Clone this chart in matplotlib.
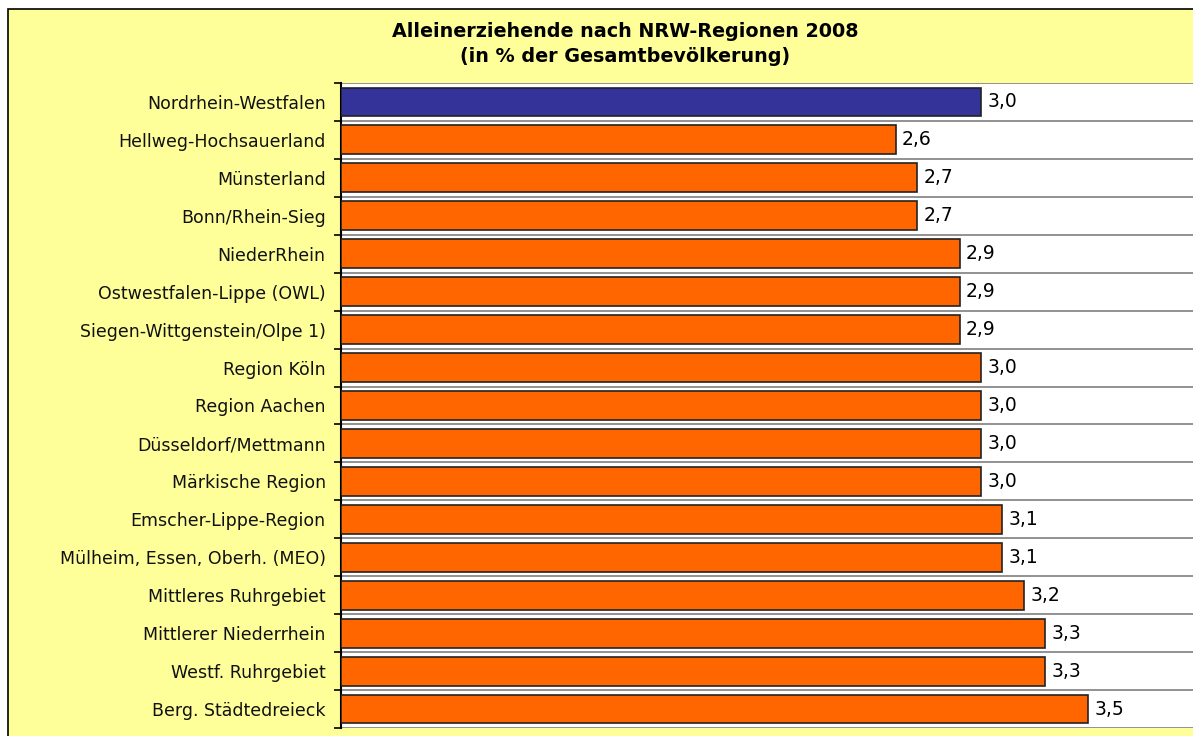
import matplotlib
matplotlib.use("Agg")
import matplotlib.pyplot as plt
from matplotlib.patches import Rectangle

categories = [
    "Nordrhein-Westfalen", "Hellweg-Hochsauerland", "Münsterland", "Bonn/Rhein-Sieg",
    "NiederRhein", "Ostwestfalen-Lippe (OWL)", "Siegen-Wittgenstein/Olpe 1)",
    "Region Köln", "Region Aachen", "Düsseldorf/Mettmann", "Märkische Region",
    "Emscher-Lippe-Region", "Mülheim, Essen, Oberh. (MEO)", "Mittleres Ruhrgebiet",
    "Mittlerer Niederrhein", "Westf. Ruhrgebiet", "Berg. Städtedreieck",
]
values = [3.0, 2.6, 2.7, 2.7, 2.9, 2.9, 2.9, 3.0, 3.0, 3.0, 3.0, 3.1, 3.1, 3.2, 3.3, 3.3, 3.5]
value_labels = ["3,0", "2,6", "2,7", "2,7", "2,9", "2,9", "2,9", "3,0", "3,0", "3,0", "3,0",
                "3,1", "3,1", "3,2", "3,3", "3,3", "3,5"]
title = "Alleinerziehende nach NRW-Regionen 2008\n(in % der Gesamtbevölkerung)"

W, H = 1193, 736
fig = plt.figure(figsize=(W / 100, H / 100), dpi=100)
fig.patch.set_facecolor("white")

# background axes with the yellow frame
bg = fig.add_axes([0, 0, 1, 1], zorder=0)
bg.set_xlim(0, W)
bg.set_ylim(H, 0)
bg.axis("off")
bg.add_patch(Rectangle((8, 9), W + 50, H + 50, facecolor="#FFFF99", edgecolor="black",
                       linewidth=1.2))

ax_left, ax_right = 341 / W, 1.0
ax_top, ax_bottom = 1 - 83 / H, 1 - 728 / H
ax = fig.add_axes([ax_left, ax_bottom, ax_right - ax_left, ax_top - ax_bottom], zorder=2)
ax.set_facecolor("white")

n = len(categories)
ypos = list(range(n))
colors = ["#333399"] + ["#FF6600"] * (n - 1)
ax.barh(ypos, values, height=0.76, color=colors, edgecolor="#222222", linewidth=1.2, zorder=3)

ax.set_ylim(n - 0.5, -0.5)
px_per_unit = 640 / 3.0
ax.set_xlim(0, (W - 341) / px_per_unit)

for i in range(n + 1):
    ax.axhline(i - 0.5, color="#7f7f7f", linewidth=1.2, zorder=1)

for y, v, lab in zip(ypos, values, value_labels):
    ax.text(v + 0.03, y, lab, va="center", ha="left", fontsize=13.5, color="black",
            family="DejaVu Sans", zorder=4)

ax.set_yticks(ypos)
ax.set_yticklabels(categories, fontsize=12.5, color="#111111", family="DejaVu Sans")
ax.set_yticks([i - 0.5 for i in range(n + 1)], minor=True)
ax.tick_params(axis="y", which="major", length=0, pad=11)
ax.tick_params(axis="y", which="minor", length=5, width=1.2, color="black", direction="out")
ax.set_xticks([])
for s in ["top", "right", "bottom"]:
    ax.spines[s].set_visible(False)
ax.spines["left"].set_linewidth(1.5)

bg.text(625, 44, title, ha="center", va="center", fontsize=13.8, family="DejaVu Sans",
        fontweight="semibold", linespacing=1.4)

fig.savefig("out.png", dpi=100, facecolor=fig.get_facecolor())
